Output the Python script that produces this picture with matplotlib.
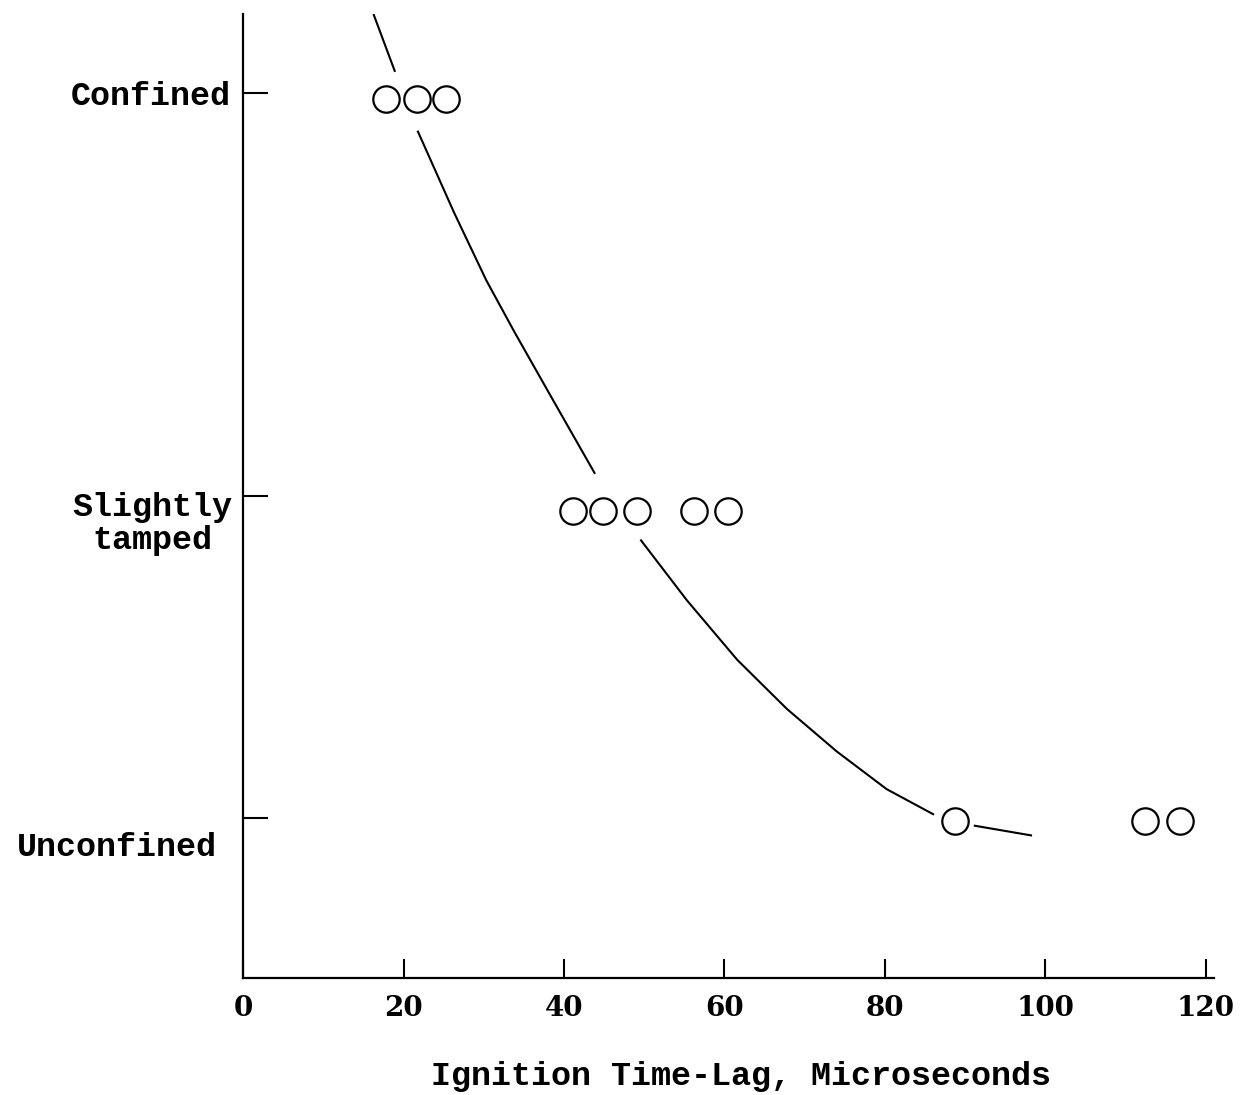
import numpy as np
import matplotlib.pyplot as plt

# confinement levels (position on the arbitrary vertical scale)
levels = ['Unconfined', 'Slightly\ntamped', 'Confined']
level_pos = [16.6, 50.0, 91.8]

# observed ignition time-lags (microseconds) for each confinement
confined_x = [17.8, 21.7, 25.3]
confined_y = [91.2, 91.2, 91.2]
tamped_x = [41.1, 44.9, 49.1, 56.2, 60.4]
tamped_y = [48.4, 48.4, 48.4, 48.4, 48.4]
unconf_x = [88.7, 112.4, 116.8]
unconf_y = [16.3, 16.3, 16.3]

# hand drawn trend curve, broken where it passes the circles (nan = gap)
curve_x = [16.3, 18.9, np.nan,
           21.8, 26.3, 30.3, 33.9, 38.6, 43.8, np.nan,
           49.6, 55.3, 61.6, 67.8, 74.0, 80.2, 86.0, np.nan,
           91.2, 98.2]
curve_y = [99.9, 94.1, np.nan,
           87.8, 79.4, 72.4, 66.9, 60.0, 52.4, np.nan,
           45.4, 39.2, 33.0, 27.9, 23.5, 19.6, 17.0, np.nan,
           15.8, 14.8]

xticks = [0, 20, 40, 60, 80, 100, 120]

mono = 'Liberation Mono'
serif = 'DejaVu Serif'

fig = plt.figure(figsize=(12.4, 10.95), dpi=100)
ax = fig.add_axes([0.196, 0.1068, 0.783, 0.8804])

ax.plot(curve_x, curve_y, color='black', linewidth=1.5, zorder=2,
        solid_joinstyle='round')

for xs, ys in [(confined_x, confined_y), (tamped_x, tamped_y), (unconf_x, unconf_y)]:
    ax.plot(xs, ys, linestyle='none', marker='o', markersize=19,
            markerfacecolor='white', markeredgecolor='black',
            markeredgewidth=1.6, zorder=3)

ax.set_xlim(0, 121)
ax.set_ylim(0, 100)

for s in ['top', 'right']:
    ax.spines[s].set_visible(False)
for s in ['left', 'bottom']:
    ax.spines[s].set_linewidth(1.6)

ax.set_xticks(xticks)
ax.set_xticklabels([str(t) for t in xticks], fontfamily=serif,
                   fontweight='bold', fontsize=20)
ax.tick_params(axis='x', direction='in', length=14, width=1.5, pad=12)

ax.set_yticks(level_pos)
ax.set_yticklabels([])
ax.tick_params(axis='y', direction='in', length=18, width=1.5)

# category labels sit a little off their ticks in the original
label_y = [13.5, 47.1, 91.4]
label_x = [-0.027, -0.011, -0.013]
trans = ax.get_yaxis_transform()
for name, lx, ly in zip(levels, label_x, label_y):
    ax.text(lx, ly, name, transform=trans, ha='right', va='center',
            multialignment='center', linespacing=1.05,
            fontfamily=mono, fontweight='bold', fontsize=24)

fig.text(741 / 1240, 1 - 1077 / 1095, 'Ignition Time-Lag, Microseconds',
         ha='center', va='center', fontfamily=mono, fontweight='bold',
         fontsize=24)

fig.savefig('out.png', dpi=100, facecolor='white')
